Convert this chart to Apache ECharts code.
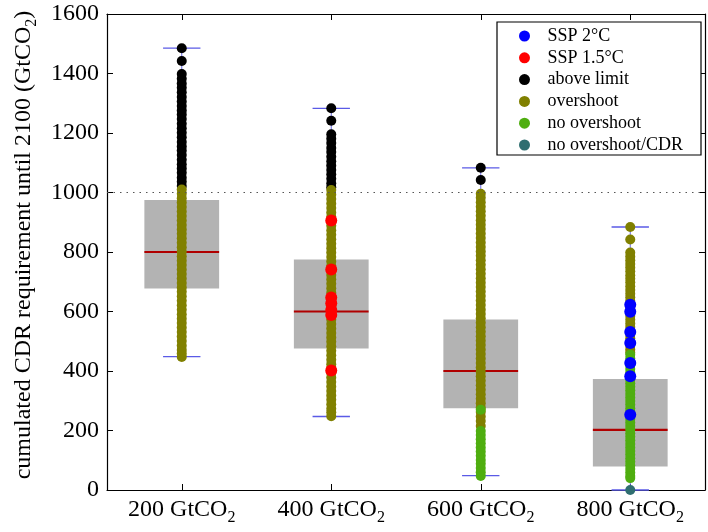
<!DOCTYPE html>
<html><head><meta charset="utf-8">
<script src="https://cdn.jsdelivr.net/npm/echarts@6/dist/echarts.min.js"></script>
<style>html,body{margin:0;padding:0;background:#fff}#c{width:708px;height:532px}</style>
</head><body><div id="c"></div>
<script>
const categories = ['200', '400', '600', '800'];
const threshold = 1000;

const whiskerLow  = [448, 247, 48, 0];
const quartile1   = [677, 476, 275, 79];
const medians     = [800, 600, 400, 202];
const quartile3   = [975, 775, 573, 373];
const whiskerHigh = [1485, 1283, 1083, 884];

const ssp2 = [[], [], [], [623, 599, 531, 494, 427, 382, 253]];
const ssp15 = [[], [906, 741, 647, 628, 605, 588, 402], [], []];
const aboveLimit = [
  [1485, 1442, 1398, 1382, 1366, 1352, 1337, 1321, 1306, 1291, 1276, 1262, 1247, 1231, 1216, 1201, 1186, 1170, 1155, 1141, 1126, 1110, 1095, 1081, 1066, 1050, 1036, 1022],
  [1283, 1241, 1196, 1181, 1166, 1150, 1136, 1120, 1105, 1091, 1076, 1061, 1046, 1031, 1018],
  [1083, 1042],
  []
];
const overshoot = [
  [1010, 996, 981, 966, 951, 936, 921, 906, 891, 876, 861, 846, 831, 816, 801, 786, 771, 756, 741, 726, 711, 696, 681, 666, 651, 636, 621, 606, 591, 576, 561, 546, 531, 516, 501, 486, 471, 459, 447],
  [1008, 993, 978, 963, 948, 933, 918, 903, 888, 873, 858, 843, 828, 813, 798, 783, 768, 753, 738, 723, 708, 693, 678, 663, 648, 633, 618, 603, 588, 573, 558, 543, 528, 513, 498, 483, 468, 453, 438, 423, 408, 393, 378, 363, 348, 333, 318, 303, 288, 273, 261, 248],
  [996, 982, 967, 952, 937, 922, 907, 892, 877, 862, 847, 832, 817, 802, 787, 772, 757, 742, 727, 712, 697, 682, 667, 652, 637, 622, 607, 592, 577, 562, 547, 532, 517, 502, 487, 472, 457, 442, 427, 412, 397, 382, 367, 352, 337, 322, 307, 292, 277, 262, 247, 232, 215],
  [884, 842, 798, 785, 772, 760, 748, 735, 722, 710, 698, 685, 672, 660, 648, 635, 622, 610, 598, 585, 572, 560, 548, 535, 522, 510, 498, 485, 472, 462]
];
const noOvershoot = [
  [],
  [],
  [270, 198, 185, 171, 157, 143, 129, 115, 101, 88, 74, 60, 47],
  [455, 443, 431, 419, 407, 395, 383, 371, 359, 347, 335, 323, 311, 299, 287, 275, 263, 251, 239, 227, 215, 203, 191, 179, 167, 155, 143, 131, 119, 107, 95, 83, 71, 59, 47, 40]
];
const noOvershootCDR = [[], [], [], [0]];

const FONT = '"Liberation Serif", "DejaVu Serif", serif';

function pts(groups) {
  const out = [];
  groups.forEach((vals, i) => vals.forEach(v => out.push([i, v])));
  return out;
}

function renderBox(params, api) {
  const i = api.value(0);
  const q1p = api.coord([i, api.value(1)]);
  const q3p = api.coord([i, api.value(2)]);
  const mp = api.coord([i, api.value(3)]);
  const lo = api.coord([i, api.value(4)]);
  const hi = api.coord([i, api.value(5)]);
  const band = api.size([1, 0])[0];
  const w = band * 0.5;
  const cw = band * 0.25;
  const cx = q1p[0];
  return {
    type: 'group',
    children: [
      { type: 'line', shape: { x1: cx, y1: hi[1], x2: cx, y2: lo[1] }, style: { stroke: '#6a6ae6', lineWidth: 1 } },
      { type: 'rect', shape: { x: cx - w / 2, y: q3p[1], width: w, height: q1p[1] - q3p[1] }, style: { fill: '#b3b3b3' } },
      { type: 'line', shape: { x1: cx - w / 2, y1: mp[1], x2: cx + w / 2, y2: mp[1] }, style: { stroke: '#b00000', lineWidth: 2.2 } },
      { type: 'line', shape: { x1: cx - cw / 2, y1: hi[1], x2: cx + cw / 2, y2: hi[1] }, style: { stroke: '#5a5ae6', lineWidth: 1.3 } },
      { type: 'line', shape: { x1: cx - cw / 2, y1: lo[1], x2: cx + cw / 2, y2: lo[1] }, style: { stroke: '#5a5ae6', lineWidth: 1.3 } }
    ]
  };
}

const boxData = categories.map((c, i) => [i, quartile1[i], quartile3[i], medians[i], whiskerLow[i], whiskerHigh[i]]);

function scatter(name, groups, color, size) {
  return {
    name: name, type: 'scatter', data: pts(groups), symbol: 'circle', symbolSize: size,
    itemStyle: { color: color, opacity: 1 }, z: 3, silent: true, animation: false
  };
}

const chart = echarts.init(document.getElementById('c'), null, { renderer: 'canvas' });

const axisCommon = {
  axisLine: { show: true, onZero: false, lineStyle: { color: '#000', width: 1.2 } },
  axisTick: { show: true, inside: true, length: 6, lineStyle: { color: '#000', width: 1 } },
  splitLine: { show: false }
};

const aboveSeries = scatter('above limit', aboveLimit, '#000000', 10);
aboveSeries.markLine = {
  silent: true, symbol: ['none', 'none'], label: { show: false },
  lineStyle: { color: '#555', type: [1.5, 5], width: 1 },
  data: [{ yAxis: threshold }], animation: false
};

const richSub = {
  a: { fontFamily: FONT, fontSize: 24, lineHeight: 24, color: '#000' },
  s: { fontFamily: FONT, fontSize: 16, lineHeight: 16, padding: [16, 0, 0, 0], color: '#000' }
};

chart.setOption({
  animation: false,
  textStyle: { fontFamily: FONT },
  grid: { left: 104, right: 3, top: 14, bottom: 42 },
  legend: {
    data: ['SSP 2°C', 'SSP 1.5°C', 'above limit', 'overshoot', 'no overshoot', 'no overshoot/CDR'],
    orient: 'vertical', left: 497, top: 22,
    backgroundColor: '#fff', borderColor: '#000', borderWidth: 1.2, borderRadius: 0,
    padding: [5, 18, 1, 22], itemGap: 3.8, itemWidth: 36, itemHeight: 11, icon: 'circle',
    textStyle: { fontFamily: FONT, fontSize: 18, color: '#000', lineHeight: 17 },
    selectedMode: false
  },
  xAxis: [
    Object.assign({}, axisCommon, {
      type: 'category', data: categories, position: 'bottom', boundaryGap: true,
      axisTick: Object.assign({}, axisCommon.axisTick, { alignWithLabel: true }),
      axisLabel: {
        margin: 8, color: '#000',
        formatter: v => '{a|' + v + ' GtCO}{s|2}',
        rich: richSub
      }
    }),
    Object.assign({}, axisCommon, {
      type: 'category', data: categories, position: 'top', boundaryGap: true,
      axisTick: Object.assign({}, axisCommon.axisTick, { alignWithLabel: true }),
      axisLabel: { show: false }
    })
  ],
  yAxis: [
    Object.assign({}, axisCommon, {
      type: 'value', min: 0, max: 1600, interval: 200, position: 'left',
      axisLabel: { margin: 8, color: '#000', fontFamily: FONT, fontSize: 24, formatter: v => String(v) },
      name: '{a|cumulated CDR requirement until 2100 (GtCO}{s|2}{a|)}',
      nameLocation: 'middle', nameGap: 71, nameRotate: 90,
      nameTextStyle: { rich: richSub, padding: [0, 0, 0, 14] }
    }),
    Object.assign({}, axisCommon, {
      type: 'value', min: 0, max: 1600, interval: 200, position: 'right',
      axisLabel: { show: false }
    })
  ],
  series: [
    { name: 'box', type: 'custom', renderItem: renderBox, data: boxData, z: 1, silent: true, encode: { x: 0, y: [1, 2, 3, 4, 5] } },
    aboveSeries,
    scatter('overshoot', overshoot, '#808000', 10),
    scatter('no overshoot', noOvershoot, '#4fae10', 10),
    scatter('no overshoot/CDR', noOvershootCDR, '#2f6e70', 10),
    scatter('SSP 1.5°C', ssp15, '#ff0000', 12),
    scatter('SSP 2°C', ssp2, '#0000ff', 12)
  ]
});
</script>
</body></html>
